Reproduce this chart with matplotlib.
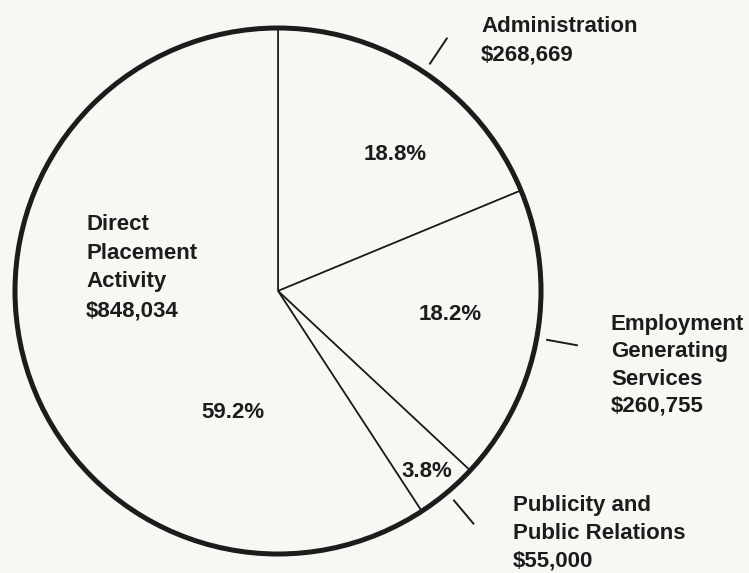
import matplotlib
matplotlib.use('Agg')
import matplotlib.pyplot as plt
from matplotlib.patches import Circle
import numpy as np

# budget data
categories = ['Administration', 'Employment\nGenerating\nServices', 'Publicity and\nPublic Relations', 'Direct\nPlacement\nActivity']
amounts = [268669, 260755, 55000, 848034]

W, H = 749, 573
bg = '#f7f7f4'
ink = '#1c1c1c'

fig = plt.figure(figsize=(W / 100, H / 100), dpi=100, facecolor=bg)
ax = fig.add_axes([0, 0, 1, 1])
ax.set_facecolor(bg)

def py(y):
    # pixel row (from top) -> data y
    return H - y

cx, cy, r = 278, py(291), 263

wedges, _ = ax.pie(amounts, startangle=90, counterclock=False, center=(cx, cy), radius=r,
                   colors=[bg] * 4, wedgeprops=dict(edgecolor=ink, linewidth=1.2),
                   frame=True)
ax.add_patch(Circle((cx, cy), r, fill=False, edgecolor=ink, linewidth=3.6, zorder=5))

ax.set_xlim(0, W)
ax.set_ylim(0, H)
ax.set_aspect('auto')
ax.axis('off')

total = float(sum(amounts))
pcts = ['%.1f%%' % (a / total * 100) for a in amounts]

font = dict(family='Liberation Sans', weight='bold', size=16, color=ink)

# small leader ticks outside the circle for the first three slices
for w in wedges[:3]:
    mid = np.deg2rad((w.theta1 + w.theta2) / 2)
    r0, r1 = r * 1.04, r * 1.155
    ax.plot([cx + r0 * np.cos(mid), cx + r1 * np.cos(mid)],
            [cy + r0 * np.sin(mid), cy + r1 * np.sin(mid)], color=ink, lw=1.4)

# category labels with amounts
label_pos = [(481, 24, 29), (611, 322, 27.3), (513, 503, 28), (86, 222, 28.7)]
for name, amt, (x, y0, dy) in zip(categories, amounts, label_pos):
    lines = name.split('\n') + ['${:,}'.format(amt)]
    for i, line in enumerate(lines):
        ax.text(x, py(y0 + i * dy + 8), line, ha='left', va='baseline', **font)

# percentages inside the slices
pct_pos = [(395, 152), (450, 312), (427, 469), (233, 410)]
for p, (x, y) in zip(pcts, pct_pos):
    ax.text(x, py(y + 8), p, ha='center', va='baseline', **font)

plt.savefig('out.png', dpi=100, facecolor=bg)
